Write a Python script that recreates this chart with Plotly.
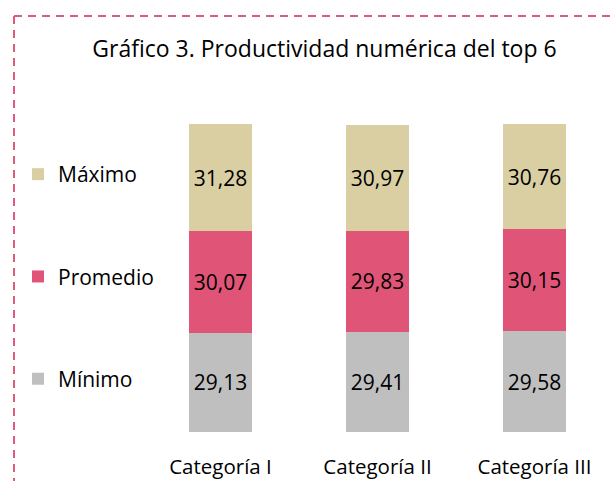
import plotly.graph_objects as go

categorias = ["Categoría I", "Categoría II", "Categoría III"]
minimo = [29.13, 29.41, 29.58]
promedio = [30.07, 29.83, 30.15]
maximo = [31.28, 30.97, 30.76]

series = [
    ("Mínimo", minimo, "#BFBFBF", 3),
    ("Promedio", promedio, "#E05577", 2),
    ("Máximo", maximo, "#DACFA3", 1),
]

FONT = "Open Sans"
W, H = 616, 481
L, R, T, B = 142, 3, 92, 49
pw, ph = W - L - R, H - T - B

fig = go.Figure()
for name, vals, col, rank in series:
    fig.add_trace(go.Bar(
        x=categorias, y=vals, name=name, legendgroup=name, legendrank=rank,
        marker=dict(color=col, line=dict(width=0)),
        texttemplate="%{y:.2f}", textposition="inside",
        insidetextanchor="middle",
        textfont=dict(family=FONT, size=21, color="#000000"),
        hoverinfo="skip",
    ))

def px_x(p):
    return (p - L) / pw

def px_y(p):
    return (H - B - p) / ph

border = "#E05A7C"
shapes = [
    dict(type="line", xref="paper", yref="paper",
         x0=px_x(14), x1=px_x(620), y0=px_y(16), y1=px_y(16),
         line=dict(color=border, width=2, dash="8px,6px")),
    dict(type="line", xref="paper", yref="paper",
         x0=px_x(14), x1=px_x(14), y0=px_y(16), y1=px_y(485),
         line=dict(color=border, width=2, dash="8px,6px")),
]

fig.update_layout(
    width=W, height=H,
    margin=dict(l=L, r=R, t=T, b=B, autoexpand=False),
    paper_bgcolor="white", plot_bgcolor="white",
    separators=",.",
    barmode="stack", bargap=0.6,
    font=dict(family=FONT, size=18, color="#000000"),
    title=dict(text="Gráfico 3. Productividad numérica del top 6",
               x=324.5 / W, xanchor="center", y=1 - 49 / H, yanchor="middle",
               font=dict(family=FONT, size=23, color="#000000")),
    xaxis=dict(showline=False, showgrid=False, zeroline=False, ticks="",
               tickfont=dict(family=FONT, size=20.5, color="#000000"),
               ticklabelstandoff=20,
               range=[-0.5, 2.5]),
    yaxis=dict(range=[0, 100], visible=False),
    legend=dict(xref="container", yref="container", x=18 / W, xanchor="left",
                y=1 - 154 / H, yanchor="top",
                traceorder="grouped", tracegroupgap=72,
                maxheight=1.0,
                font=dict(family=FONT, size=21, color="#000000"),
                bgcolor="rgba(0,0,0,0)"),
    shapes=shapes,
)

fig.write_html("out.html")
